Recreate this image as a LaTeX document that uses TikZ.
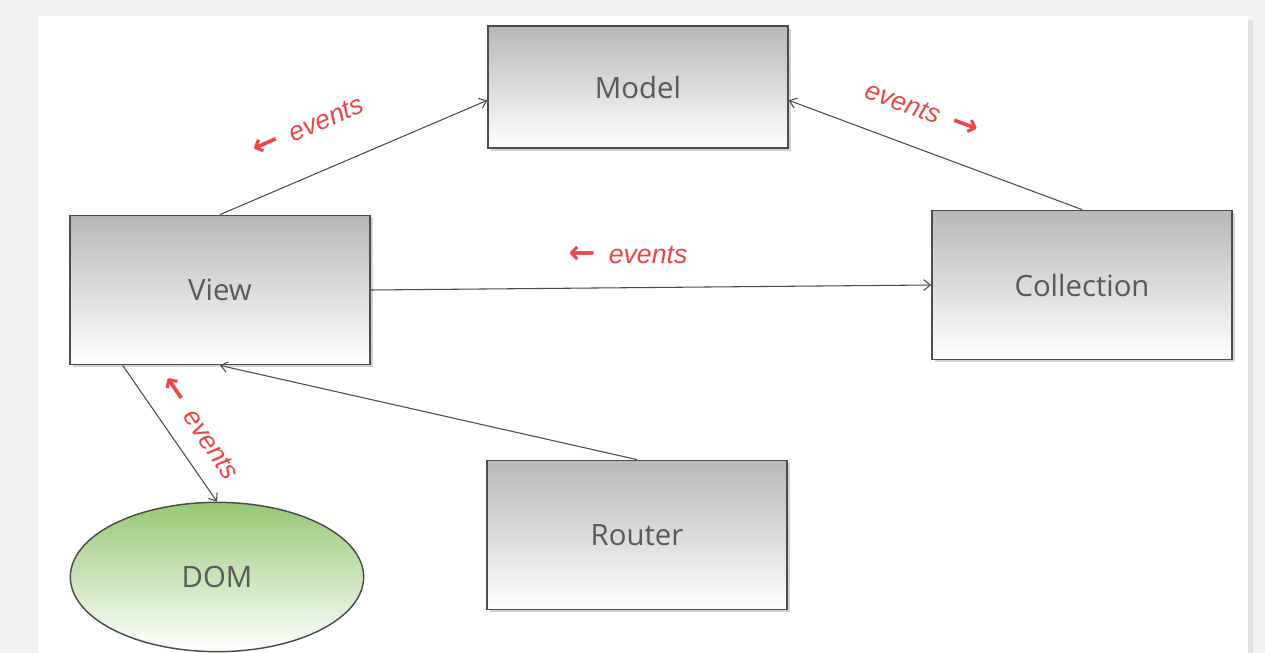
\documentclass[tikz,border=0pt]{standalone}
\usepackage{fontspec}
\setmainfont{Open Sans}
\newfontfamily\evfont{Liberation Sans}
\newfontfamily\arrfont{DejaVu Sans}
\usepackage{xcolor}
\usetikzlibrary{arrows.meta,shadows,shapes.geometric}
\definecolor{evred}{RGB}{235,70,70}
\definecolor{domgreen}{RGB}{150,200,115}

\begin{document}
\begin{tikzpicture}[x=0.75pt,y=-0.75pt,
  comp/.style={draw=black!70, line width=1.1pt, top color=black!28, bottom color=white,
    minimum width=225pt, minimum height=112pt, text=black!65,
    font=\fontsize{22}{26}\selectfont,
    drop shadow={opacity=0.35, shadow xshift=2pt, shadow yshift=-2pt}},
  link/.style={draw=black!70, line width=0.8pt, -{Straight Barb[length=5pt,width=8pt]}},
  evlbl/.style={text=evred, font=\evfont\itshape\fontsize{20}{22}\selectfont, inner sep=1pt}]
  \newcommand\evleft{{\arrfont\bfseries\fontsize{24}{24}\selectfont ←}}
  \newcommand\evright{{\arrfont\bfseries\fontsize{24}{24}\selectfont →}}
  \useasboundingbox (0,0) rectangle (1265,653);
  \fill[black!5] (0,0) rectangle (1265,653);
  \fill[white, drop shadow={opacity=0.15, shadow xshift=4pt, shadow yshift=-3pt}]
    (38,16) rectangle (1248,660);

  % components
  \node[comp, minimum height=91.5pt] (model) at (638,87) {Model};
  \node[comp] (view) at (220,290) {View};
  \node[comp] (coll) at (1082,285) {Collection};
  \node[comp] (router) at (637,535) {Router};
  \node[ellipse, draw=black!70, line width=1.1pt, top color=domgreen, bottom color=white,
    minimum width=220pt, minimum height=112pt, text=black!65,
    font=\fontsize{22}{26}\selectfont] (dom) at (217,577) {DOM};

  % connectors
  \draw[link] (view.north) -- ([yshift=-10pt]model.west);
  \draw[link] (coll.north) -- ([yshift=-10pt]model.east);
  \draw[link] (view.east) -- (coll.west);
  \draw[link] (router.north) -- (view.south);
  \draw[link] ([xshift=-73pt]view.south) -- (dom.north);

  % event labels
  \node[evlbl, rotate=24] (ev1) at (308,127) {\evleft\enspace events};
  \node[evlbl, rotate=-20] (ev2) at (922,110) {events\enspace\evright};
  \node[evlbl] (ev3) at (628,255) {\evleft\enspace events};
  \node[evlbl, rotate=-56] (ev4) at (200,428) {\evleft\enspace events};
\end{tikzpicture}
\end{document}
